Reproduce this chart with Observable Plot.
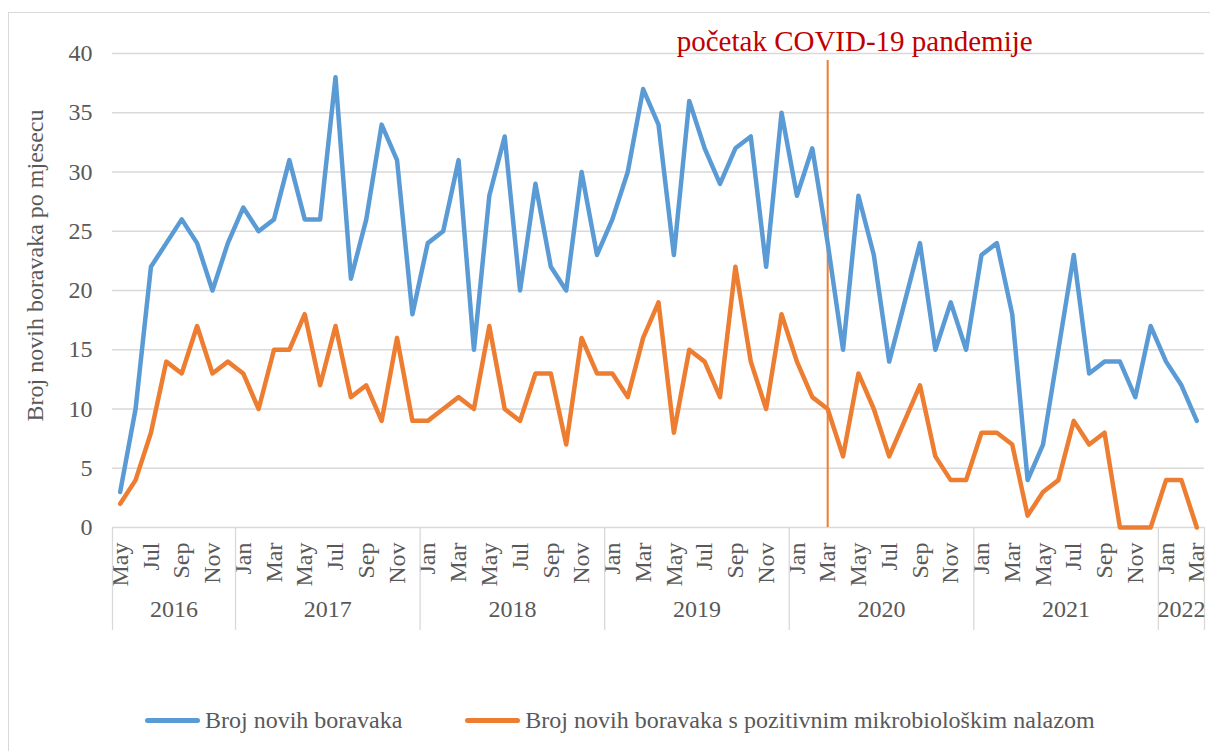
<!DOCTYPE html>
<html>
<head>
<meta charset="utf-8">
<script src="https://cdn.jsdelivr.net/npm/d3@7"></script>
<script src="https://cdn.jsdelivr.net/npm/@observablehq/plot@0.6"></script>
<style>
  html, body { margin: 0; padding: 0; background: #fff; overflow: hidden; width: 1210px; height: 751px; }
  #frame { position: absolute; left: 8px; top: 12px; width: 1400px; height: 900px; border: 1.5px solid #d9d9d9; box-sizing: border-box; }
  #chart { position: absolute; left: 0; top: 0; }
  #legend { position: absolute; top: 705px; left: 145px; height: 30px; display: flex; align-items: center;
            font-family: "Liberation Serif", "Times New Roman", serif; font-size: 24px; color: #595959; white-space: nowrap; }
  .sw { display: inline-block; width: 55px; height: 5px; border-radius: 3px; margin-right: 5px; }
  .item { display: flex; align-items: center; }
</style>
</head>
<body>
<div id="frame"></div>
<div id="chart"></div>
<div id="legend"></div>
<script>
// ---- data (monthly, May 2016 – Mar 2022) ----
const startYear = 2016;
const startMonth = 5; // May
const monthNames = ["Jan","Feb","Mar","Apr","May","Jun","Jul","Aug","Sep","Oct","Nov","Dec"];
const seriesNames = ["Broj novih boravaka", "Broj novih boravaka s pozitivnim mikrobiološkim nalazom"];
const seriesColors = ["#5B9BD5", "#ED7D31"];
const newStays = [
  3,10,22,24,26,24,20,24,
  27,25,26,31,26,26,38,21,26,34,31,18,
  24,25,31,15,28,33,20,29,22,20,30,23,
  26,30,37,34,23,36,32,29,32,33,22,35,
  28,32,24,15,28,23,14,19,24,15,19,15,
  23,24,18,4,7,15,23,13,14,14,11,17,
  14,12,9
];
const positiveStays = [
  2,4,8,14,13,17,13,14,
  13,10,15,15,18,12,17,11,12,9,16,9,
  9,10,11,10,17,10,9,13,13,7,16,13,
  13,11,16,19,8,15,14,11,22,14,10,18,
  14,11,10,6,13,10,6,9,12,6,4,4,
  8,8,7,1,3,4,9,7,8,0,0,0,
  4,4,0
];
const yTicks = [0,5,10,15,20,25,30,35,40];
const yMax = 40;
const yTitle = "Broj novih boravaka po mjesecu";
const covidYear = 2020, covidMonth = 3;
const covidLabel = "početak COVID-19 pandemije";

// ---- derived structures ----
const n = newStays.length;
const idx = d3.range(n);
const yearOf = i => startYear + Math.floor((startMonth - 1 + i) / 12);
const monthOf = i => (startMonth - 1 + i) % 12;
const rows = [];
idx.forEach(i => rows.push({i, v: newStays[i], s: seriesNames[0]}));
idx.forEach(i => rows.push({i, v: positiveStays[i], s: seriesNames[1]}));
const years = Array.from(d3.group(idx, yearOf), ([y, is]) => ({year: String(y), first: d3.min(is), last: d3.max(is)}));
const boundaries = [-0.5].concat(years.map(y => y.last + 0.5));
const labelTicks = idx.filter(i => i % 2 === 0);
const covidIndex = idx.find(i => yearOf(i) === covidYear && monthOf(i) === covidMonth - 1);

const W = 1210, H = 640, bottom = 527;
const font = '"Liberation Serif", "Times New Roman", serif';

const svg = Plot.plot({
  width: W, height: H,
  marginLeft: 112, marginRight: 6, marginTop: 53, marginBottom: H - bottom,
  style: {fontFamily: font, fontSize: "24px", color: "#595959", background: "transparent", overflow: "visible"},
  x: {type: "linear", domain: [-0.5, n - 0.5], ticks: labelTicks, tickFormat: i => monthNames[monthOf(i)],
      tickRotate: -90, tickSize: 0, tickPadding: 15, label: null},
  y: {domain: [0, yMax], ticks: yTicks, tickSize: 0, tickPadding: 20, label: null},
  color: {domain: seriesNames, range: seriesColors},
  marks: [
    Plot.ruleY(yTicks, {stroke: "#d9d9d9", strokeWidth: 1.3}),
    Plot.ruleX(boundaries, {x: d => d, y1: 0, insetBottom: -103, stroke: "#d9d9d9", strokeWidth: 1.3}),
    Plot.text(years, {x: d => (d.first + d.last) / 2, text: "year", frameAnchor: "bottom", dy: 89,
                      fontSize: 24, fontFamily: font, fill: "#595959"}),
    Plot.text([yTitle], {frameAnchor: "left", textAnchor: "middle", rotate: -90, dx: -77, dy: -25,
                         fontSize: 24, fontFamily: font, fill: "#595959"}),
    Plot.ruleX([covidIndex], {x: d => d, stroke: "#ED7D31", strokeWidth: 2, insetTop: 7}),
    Plot.line(rows, {x: "i", y: "v", stroke: "s", z: "s", strokeWidth: 4.5, strokeLinejoin: "round", strokeLinecap: "round"}),
    Plot.text([covidLabel], {x: [covidIndex], y: [yMax], text: d => d, fontSize: 29, fontFamily: font, fill: "#C00000",
                             textAnchor: "middle", dx: 27, dy: -11.6, ariaLabel: "covid-label"})
  ]
});
document.getElementById("chart").appendChild(svg);

// clip the annotation at the plot-area top, as in the original
const ns = "http://www.w3.org/2000/svg";
const defs = document.createElementNS(ns, "defs");
const cp = document.createElementNS(ns, "clipPath");
cp.setAttribute("id", "clipTitle");
const r = document.createElementNS(ns, "rect");
r.setAttribute("x", 0); r.setAttribute("y", 0); r.setAttribute("width", W); r.setAttribute("height", 53.6);
cp.appendChild(r); defs.appendChild(cp); svg.insertBefore(defs, svg.firstChild);
const tg = svg.querySelector('g[aria-label="covid-label"]');
if (tg) tg.setAttribute("clip-path", "url(#clipTitle)");

// legend
const legend = document.getElementById("legend");
seriesNames.forEach((name, k) => {
  const it = document.createElement("div");
  it.className = "item";
  if (k > 0) it.style.marginLeft = "63px";
  const sw = document.createElement("span");
  sw.className = "sw"; sw.style.background = seriesColors[k];
  const tx = document.createElement("span");
  tx.textContent = name;
  it.appendChild(sw); it.appendChild(tx);
  legend.appendChild(it);
});
</script>
</body>
</html>
